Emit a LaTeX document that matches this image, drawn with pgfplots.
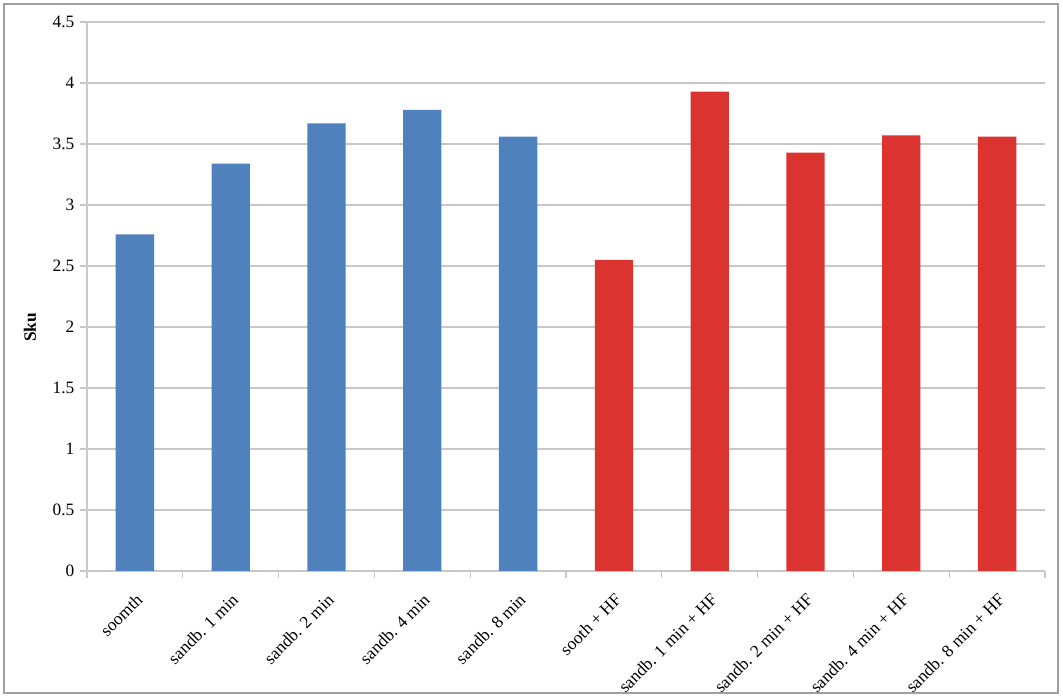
\documentclass[border=0pt]{standalone}
\usepackage{pgfplots}
\pgfplotsset{compat=1.18}
\usepackage{fontspec}
\setmainfont{Liberation Serif}
\definecolor{barblue}{HTML}{4F81BD}
\definecolor{barred}{HTML}{DB3430}
\definecolor{gridgray}{HTML}{C8C8C8}
\definecolor{framegray}{HTML}{A0A0A0}
\begin{document}
\begin{tikzpicture}
\path[use as bounding box] (-65.25pt,-95.25pt) rectangle (732pt,428.25pt);
\draw[framegray, line width=1.5pt] (-62.25pt,-91.5pt) rectangle (728.25pt,425.25pt);
\begin{axis}[
  at={(0pt,0pt)}, anchor=south west,
  scale only axis, width=718.5pt, height=411.75pt,
  ybar, bar width=0.4, bar shift=0pt,
  xmin=-0.5, xmax=9.5, ymin=0, ymax=4.5,
  ytick={0,0.5,...,4.5},
  yticklabels={0,0.5,1,1.5,2,2.5,3,3.5,4,4.5},
  xtick={0,...,9},
  xticklabels={soomth, sandb. 1 min, sandb. 2 min, sandb. 4 min, sandb. 8 min, sooth + HF, sandb. 1 min + HF, sandb. 2 min + HF, sandb. 4 min + HF, sandb. 8 min + HF},
  major x tick style={draw=none},
  minor xtick={-0.5,0.5,...,9.5},
  minor tick length=5pt,
  minor x tick style={gridgray, line width=1pt},
  major y tick style={gridgray, line width=1pt},
  major tick length=5pt,
  tick align=outside,
  axis lines*=left,
  axis line style={gridgray, line width=1pt, -},
  ymajorgrids, grid style={gridgray, line width=1pt},
  xminorgrids=false,
  /pgf/number format/assume math mode=true,
  ticklabel style={font=\fontsize{13pt}{15pt}\selectfont, text=black},
  xticklabel style={xshift=0pt, yshift=-9.5pt, rotate=45, anchor=north east, inner sep=1pt},
  yticklabel style={xshift=-1pt},
  ylabel={\textbf{Sku}},
  ylabel style={font=\fontsize{13pt}{15pt}\selectfont, at={(axis description cs:-0.0595,0.444)}, anchor=center},
  clip=false,
]
\addplot[fill=barblue, draw=none] coordinates {(0,2.76) (1,3.34) (2,3.67) (3,3.78) (4,3.56)};
\addplot[fill=barred, draw=none] coordinates {(5,2.55) (6,3.93) (7,3.43) (8,3.57) (9,3.56)};
\end{axis}
\end{tikzpicture}
\end{document}
